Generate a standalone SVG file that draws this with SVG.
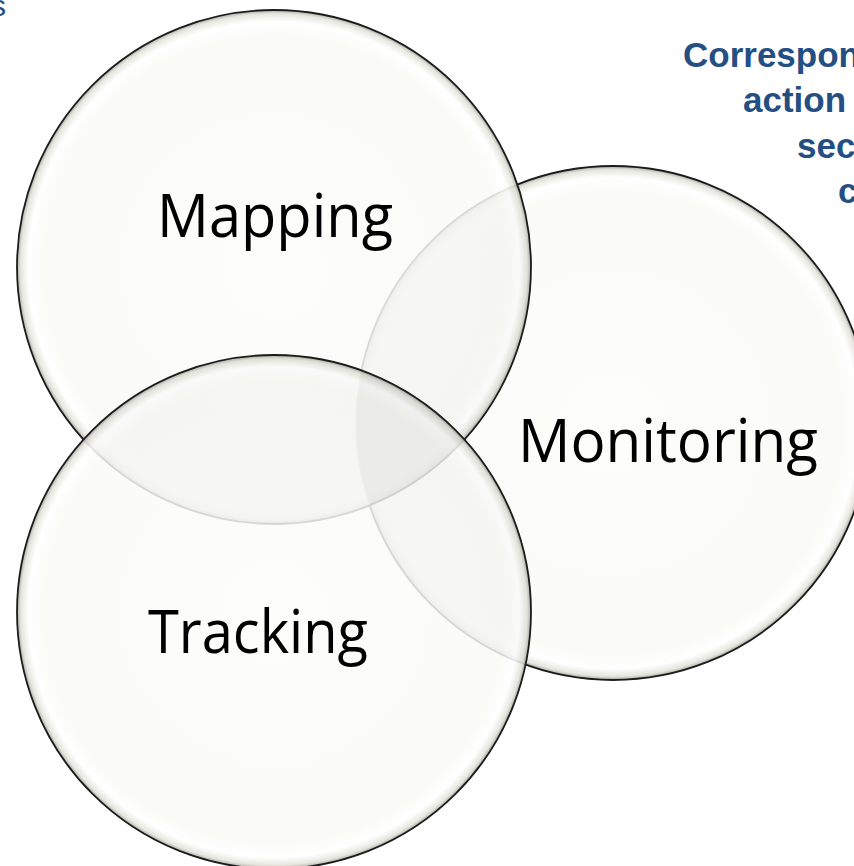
<svg xmlns="http://www.w3.org/2000/svg" width="854" height="866" viewBox="0 0 854 866">
<style>
.lbl{font-family:"Open Sans","Noto Sans","Liberation Sans",sans-serif;font-size:60px;fill:#000}
.blue{font-family:"Liberation Sans",Arial,sans-serif;font-weight:bold;font-size:35px;fill:#244f82}
.disc{fill:url(#glass)}
.rim{fill:none;stroke:#1c1c1c;stroke-width:1.8}
.ov{fill:#5a5a40;fill-opacity:0.028}
</style>
<defs>
<radialGradient id="glass" cx="0.5" cy="0.5" r="0.5">
<stop offset="0" stop-color="#fcfcfa" stop-opacity="0.85"/>
<stop offset="0.9" stop-color="#fafaf6" stop-opacity="0.85"/>
<stop offset="0.955" stop-color="#ffffff" stop-opacity="0.9"/>
<stop offset="0.985" stop-color="#e4e4dc" stop-opacity="0.9"/>
<stop offset="1" stop-color="#a8a8a0" stop-opacity="0.95"/>
</radialGradient>
<clipPath id="cMap"><circle cx="274" cy="267" r="257"/></clipPath>
<clipPath id="cMon"><circle cx="613" cy="423" r="257"/></clipPath>
<clipPath id="cTrk"><circle cx="274" cy="612" r="257"/></clipPath>
</defs>
<rect width="854" height="866" fill="#ffffff"/>
<text x="-9" y="16" style="font-family:'Liberation Sans',Arial,sans-serif;font-size:30px;fill:#244f82">s</text>
<g id="caption">
<text class="blue" x="683" y="67">Correspon</text>
<text class="blue" x="743" y="112">action</text>
<text class="blue" x="797" y="158">sec</text>
<text class="blue" x="838" y="203">c</text>
</g>
<g id="monitoring">
<circle class="disc" cx="613" cy="423" r="257"/>
<circle class="rim" cx="613" cy="423" r="257"/>
<text class="lbl" x="518" y="462" textLength="300" lengthAdjust="spacingAndGlyphs">Monitoring</text>
</g>
<g id="mapping">
<circle class="disc" cx="274" cy="267" r="257"/>
<circle class="rim" cx="274" cy="267" r="257"/>
<text class="lbl" x="157" y="237" textLength="236" lengthAdjust="spacingAndGlyphs">Mapping</text>
</g>
<g id="tracking">
<circle class="disc" cx="274" cy="612" r="257"/>
<circle class="rim" cx="274" cy="612" r="257"/>
<text class="lbl" x="148" y="653" textLength="220" lengthAdjust="spacingAndGlyphs">Tracking</text>
</g>
<g id="overlaps">
<g clip-path="url(#cMap)"><circle class="ov" cx="613" cy="423" r="256"/></g>
<g clip-path="url(#cMap)"><circle class="ov" cx="274" cy="612" r="256"/></g>
<g clip-path="url(#cMon)"><circle class="ov" cx="274" cy="612" r="256"/></g>
</g>
</svg>
